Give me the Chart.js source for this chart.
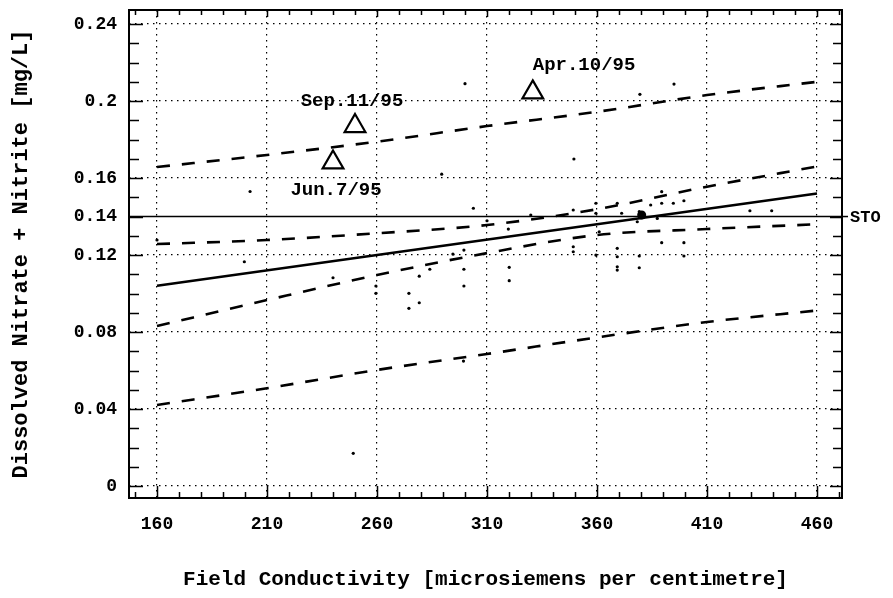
<!DOCTYPE html>
<html><head><meta charset="utf-8">
<script src="https://cdn.jsdelivr.net/npm/chart.js@4.4.0/dist/chart.umd.min.js"></script>
<style>html,body{margin:0;padding:0;background:#fff;} #wrap{width:893px;height:598px;}</style>
</head><body><div id="wrap"><canvas id="c" width="893" height="598"></canvas></div>
<script>
// ---- data ----
const xMajorTicks = [160, 210, 260, 310, 360, 410, 460];
const yTickLabels = [0, 0.04, 0.08, 0.12, 0.14, 0.16, 0.2, 0.24];
const yGridValues = [0, 0.04, 0.08, 0.12, 0.16, 0.2, 0.24];
const xRange = [147.27, 471.36];
const yRange = [-0.00623, 0.2473];

const fitX = [160, 460];
const fitY = [0.104, 0.152];

const bandX = [160, 210, 260, 310, 360, 410, 460];
const upperPred = [0.1657, 0.1720, 0.1789, 0.1870, 0.1944, 0.2031, 0.2100];
const lowerPred = [0.0421, 0.0508, 0.0603, 0.0686, 0.0772, 0.0852, 0.0912];
const upperConf = [0.1257, 0.1278, 0.1313, 0.1356, 0.1438, 0.1555, 0.1660];
const lowerConf = [0.0831, 0.0966, 0.1096, 0.1210, 0.1304, 0.1335, 0.1360];

const objectiveValue = 0.14;
const objectiveLabel = 'STO';

const obsX = [300, 379.5, 395, 349.5, 289.4, 202.3, 160, 199.7, 240, 303.8, 310, 319.7, 299.5, 284, 279.2, 299.5, 299.5, 320.1, 320.1, 259.5, 259.5, 274.5, 274.5, 279.2, 294.5, 329.9, 349.2, 359.5, 359.5, 369.2, 371.2, 379.2, 378.3, 384.4, 389.4, 389.4, 394.7, 399.5, 387.4, 361, 349.2, 349.2, 359.5, 369.2, 369.2, 369.2, 369.2, 379.2, 379.2, 389.4, 399.5, 399.5, 429.5, 439.4, 249.2, 299.3];
const obsY = [0.209, 0.2035, 0.2088, 0.1699, 0.162, 0.153, 0.1278, 0.1165, 0.1082, 0.1443, 0.1378, 0.1335, 0.1226, 0.1126, 0.109, 0.1126, 0.1039, 0.1136, 0.1067, 0.1039, 0.1001, 0.1001, 0.0923, 0.0952, 0.1205, 0.1408, 0.1434, 0.1469, 0.1417, 0.1469, 0.1417, 0.1425, 0.1373, 0.146, 0.1529, 0.1469, 0.1469, 0.1482, 0.139, 0.1321, 0.1243, 0.1217, 0.12, 0.1235, 0.1191, 0.1139, 0.1122, 0.1195, 0.1134, 0.1264, 0.1264, 0.1195, 0.143, 0.143, 0.017, 0.0649];
const clusterX = [380.3];
const clusterY = [0.1408];

const flaggedX = [250, 240, 330.8];
const flaggedY = [0.1870, 0.1681, 0.2045];
const flaggedLabels = ['Sep.11/95', 'Jun.7/95', 'Apr.10/95'];
const flaggedLabelOffsets = [[-3, -25, 'center'], [3, 28, 'center'], [0, -27, 'left']];

const xTitle = 'Field Conductivity [microsiemens per centimetre]';
const yTitle = 'Dissolved Nitrate + Nitrite [mg/L]';

// ---- helpers ----
const FONT = "'Liberation Mono', 'DejaVu Sans Mono', monospace";
const r2 = v => Math.round(v * 1000) / 1000;
const isIn = (arr, v) => arr.some(a => Math.abs(a - v) < 1e-6);
const pts = (xs, ys) => xs.map((x, i) => ({x: x, y: ys[i]}));

const xMinorTicks = []; for (let v = 150; v <= 470; v += 10) xMinorTicks.push(v);
const yMinorTicks = []; for (let i = 0; i <= 24; i++) yMinorTicks.push(r2(i * 0.01));

const decor = {
  id: 'decor',
  afterDraw(chart) {
    const ctx = chart.ctx, a = chart.chartArea;
    const xs = chart.scales.x, ys = chart.scales.y;
    ctx.save();
    ctx.strokeStyle = '#000';
    // inward tick marks
    ctx.lineWidth = 1.5;
    ctx.beginPath();
    xMinorTicks.forEach(v => {
      const p = Math.round(xs.getPixelForValue(v)) + 0.5;
      const maj = isIn(xMajorTicks, v);
      ctx.moveTo(p, a.bottom); ctx.lineTo(p, a.bottom - (maj ? 12 : 6));
      ctx.moveTo(p, a.top); ctx.lineTo(p, a.top + (maj ? 7 : 5));
    });
    yMinorTicks.forEach(v => {
      const p = Math.round(ys.getPixelForValue(v)) + 0.5;
      const maj = isIn(yTickLabels, v);
      ctx.moveTo(a.left, p); ctx.lineTo(a.left + (maj ? 14 : 10), p);
      ctx.moveTo(a.right, p); ctx.lineTo(a.right - (maj ? 12 : 9), p);
    });
    ctx.stroke();
    // frame
    ctx.lineWidth = 2;
    ctx.strokeRect(a.left, a.top, a.right - a.left, a.bottom - a.top);
    // objective line extension + label
    const oy = ys.getPixelForValue(objectiveValue);
    ctx.lineWidth = 1.5;
    ctx.beginPath(); ctx.moveTo(a.right, oy); ctx.lineTo(a.right + 6, oy); ctx.stroke();
    ctx.fillStyle = '#000';
    ctx.font = 'bold 17px ' + FONT;
    ctx.textAlign = 'left'; ctx.textBaseline = 'middle';
    ctx.fillText(objectiveLabel, a.right + 8, oy + 1);
    // flagged labels
    ctx.font = 'bold 19px ' + FONT;
    flaggedLabels.forEach((t, i) => {
      const px = xs.getPixelForValue(flaggedX[i]), py = ys.getPixelForValue(flaggedY[i]);
      const o = flaggedLabelOffsets[i];
      ctx.textAlign = o[2];
      ctx.fillText(t, px + o[0], py + o[1]);
    });
    ctx.restore();
  }
};

new Chart(document.getElementById('c'), {
  type: 'scatter',
  data: {
    datasets: [
      {data: pts(flaggedX, flaggedY), pointStyle: 'triangle', pointRadius: 12, pointBorderWidth: 2.2,
       pointBorderColor: '#000', pointBackgroundColor: '#fff', showLine: false},
      {data: pts(flaggedX, flaggedY), pointRadius: 1, pointBorderWidth: 0, pointBackgroundColor: '#000', showLine: false},
      {data: pts(clusterX, clusterY), pointRadius: 4.5, pointBorderWidth: 0, pointBackgroundColor: '#000', showLine: false},
      {data: pts(obsX, obsY), pointRadius: 1.6, pointBorderWidth: 0, pointBackgroundColor: '#000', showLine: false},
      {data: pts(fitX, fitY), showLine: true, borderColor: '#000', borderWidth: 2.5, pointRadius: 0},
      {data: pts(bandX, upperPred), showLine: true, borderColor: '#000', borderWidth: 2.6, borderDash: [13, 12], pointRadius: 0, cubicInterpolationMode: 'monotone'},
      {data: pts(bandX, lowerPred), showLine: true, borderColor: '#000', borderWidth: 2.6, borderDash: [13, 12], pointRadius: 0, cubicInterpolationMode: 'monotone'},
      {data: pts(bandX, upperConf), showLine: true, borderColor: '#000', borderWidth: 2.6, borderDash: [13, 12], pointRadius: 0, cubicInterpolationMode: 'monotone'},
      {data: pts(bandX, lowerConf), showLine: true, borderColor: '#000', borderWidth: 2.6, borderDash: [13, 12], pointRadius: 0, cubicInterpolationMode: 'monotone'},
      {data: pts(xRange, [objectiveValue, objectiveValue]), showLine: true, borderColor: '#000', borderWidth: 1.5, pointRadius: 0}
    ]
  },
  options: {
    responsive: false,
    animation: false,
    devicePixelRatio: 1,
    layout: {autoPadding: false, padding: {top: 10, right: 51, left: 0, bottom: 0}},
    plugins: {legend: {display: false}, tooltip: {enabled: false}},
    scales: {
      x: {
        type: 'linear', min: xRange[0], max: xRange[1],
        afterBuildTicks: s => { s.ticks = xMinorTicks.map(v => ({value: v})); },
        afterFit: s => { s.height = 100; s.paddingLeft = 0; s.paddingRight = 0; },
        ticks: {autoSkip: false, maxRotation: 0, minRotation: 0, padding: 16, color: '#000',
          font: {family: FONT, size: 18, weight: 'bold'},
          callback: v => isIn(xMajorTicks, v) ? String(v) : ''},
        grid: {drawTicks: false, lineWidth: 1.2,
          color: c => (c.tick && isIn(xMajorTicks, c.tick.value)) ? '#000' : 'rgba(0,0,0,0)'},
        border: {display: false, dash: [1.5, 4.5]},
        title: {display: true, text: xTitle, color: '#000', padding: {top: 0, bottom: 6},
          font: {family: FONT, size: 21, weight: 'bold'}}
      },
      y: {
        type: 'linear', min: yRange[0], max: yRange[1],
        afterBuildTicks: s => { s.ticks = yMinorTicks.map(v => ({value: v})); },
        afterFit: s => { s.width = 129; s.paddingTop = 0; s.paddingBottom = 0; },
        ticks: {autoSkip: false, padding: 12, color: '#000',
          font: {family: FONT, size: 18, weight: 'bold'},
          callback: v => isIn(yTickLabels, v) ? String(r2(v)) : ''},
        grid: {drawTicks: false, lineWidth: 1.2,
          color: c => (c.tick && isIn(yGridValues, c.tick.value)) ? '#000' : 'rgba(0,0,0,0)'},
        border: {display: false, dash: [1.5, 4.5]},
        title: {display: true, text: yTitle, color: '#000', padding: {top: 8, bottom: 0},
          font: {family: FONT, size: 22, weight: 'bold'}}
      }
    }
  },
  plugins: [decor]
});
</script></body></html>
